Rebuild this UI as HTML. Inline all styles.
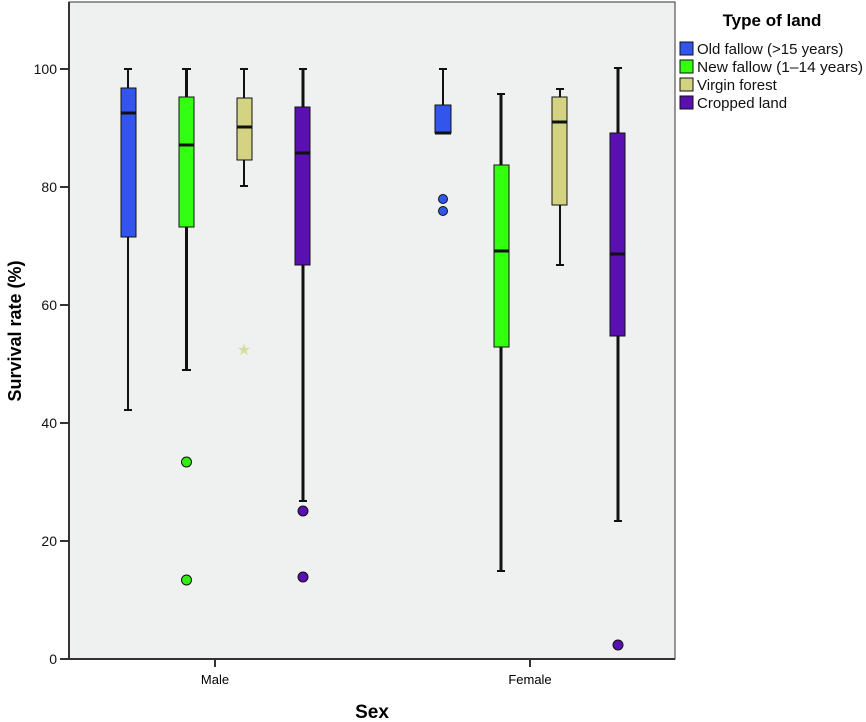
<!DOCTYPE html>
<html><head><meta charset="utf-8"><style>body{margin:0;background:#fff}svg{display:block}text{font-family:"Liberation Sans",sans-serif}</style></head><body>
<svg width="866" height="722" viewBox="0 0 866 722">
<rect x="69" y="2" width="606" height="657" fill="#eff1f1" stroke="#333" stroke-width="1"/>
<line x1="69" y1="2" x2="69" y2="659" stroke="#333" stroke-width="2"/>
<line x1="69" y1="659" x2="675" y2="659" stroke="#333" stroke-width="2"/>
<g font-size="14" fill="#111" text-anchor="end">
<line x1="60" y1="659" x2="69" y2="659" stroke="#333" stroke-width="2"/><text x="57" y="664">0</text>
<line x1="60" y1="541" x2="69" y2="541" stroke="#333" stroke-width="2"/><text x="57" y="546">20</text>
<line x1="60" y1="423" x2="69" y2="423" stroke="#333" stroke-width="2"/><text x="57" y="428">40</text>
<line x1="60" y1="305" x2="69" y2="305" stroke="#333" stroke-width="2"/><text x="57" y="310">60</text>
<line x1="60" y1="187" x2="69" y2="187" stroke="#333" stroke-width="2"/><text x="57" y="192">80</text>
<line x1="60" y1="69" x2="69" y2="69" stroke="#333" stroke-width="2"/><text x="57" y="74">100</text>
</g>
<line x1="215" y1="659" x2="215" y2="667" stroke="#333" stroke-width="2"/>
<line x1="530" y1="659" x2="530" y2="667" stroke="#333" stroke-width="2"/>
<text x="215" y="684" font-size="13" text-anchor="middle">Male</text>
<text x="530" y="684" font-size="13" text-anchor="middle">Female</text>
<text x="372" y="718" font-size="19" font-weight="bold" text-anchor="middle">Sex</text>
<text transform="translate(21,331) rotate(-90)" font-size="18" font-weight="bold" text-anchor="middle">Survival rate (%)</text>
<g stroke="#111">
<line x1="128" y1="69" x2="128" y2="410" stroke-width="2"/><line x1="124" y1="69" x2="132" y2="69" stroke-width="2"/><line x1="124" y1="410" x2="132" y2="410" stroke-width="2"/>
<rect x="121" y="88" width="15" height="149" fill="#3355ee"/><line x1="121" y1="113" x2="136" y2="113" stroke-width="3"/>
<line x1="186.5" y1="69" x2="186.5" y2="370" stroke-width="3"/><line x1="182" y1="69" x2="191" y2="69" stroke-width="2"/><line x1="182" y1="370" x2="191" y2="370" stroke-width="2"/>
<rect x="179" y="97" width="15" height="130" fill="#33ff11"/><line x1="179" y1="145" x2="194" y2="145" stroke-width="3"/>
<circle cx="186.5" cy="462" r="5" fill="#33ee11"/><circle cx="186.5" cy="580" r="5" fill="#33ee11"/>
<line x1="244" y1="69" x2="244" y2="186" stroke-width="2"/><line x1="240" y1="69" x2="248" y2="69" stroke-width="2"/><line x1="240" y1="186" x2="248" y2="186" stroke-width="2"/>
<rect x="237" y="98" width="15" height="62" fill="#d3d382"/><line x1="237" y1="127" x2="252" y2="127" stroke-width="3"/>
<line x1="303" y1="69" x2="303" y2="501" stroke-width="3"/><line x1="299" y1="69" x2="307" y2="69" stroke-width="2"/><line x1="299" y1="501" x2="307" y2="501" stroke-width="2"/>
<rect x="295" y="107" width="15" height="158" fill="#5a0fb0"/><line x1="295" y1="153" x2="310" y2="153" stroke-width="3"/>
<circle cx="303" cy="511" r="5" fill="#5a0fb0"/><circle cx="303" cy="577" r="5" fill="#5a0fb0"/>
<line x1="443" y1="69" x2="443" y2="105" stroke-width="2"/><line x1="439" y1="69" x2="447" y2="69" stroke-width="2"/>
<rect x="435" y="105" width="16" height="28" fill="#3355ee"/><line x1="435" y1="133" x2="451" y2="133" stroke-width="3"/>
<circle cx="443" cy="199" r="4.5" fill="#3355ee"/><circle cx="443" cy="211" r="4.5" fill="#3355ee"/>
<line x1="501" y1="94" x2="501" y2="571" stroke-width="3"/><line x1="497" y1="94" x2="505" y2="94" stroke-width="2"/><line x1="497" y1="571" x2="505" y2="571" stroke-width="2"/>
<rect x="494" y="165" width="15" height="182" fill="#33ff11"/><line x1="494" y1="251" x2="509" y2="251" stroke-width="3"/>
<line x1="560" y1="89" x2="560" y2="265" stroke-width="2"/><line x1="556" y1="89" x2="564" y2="89" stroke-width="2"/><line x1="556" y1="265" x2="564" y2="265" stroke-width="2"/>
<rect x="552" y="97" width="15" height="108" fill="#d3d382"/><line x1="552" y1="122" x2="567" y2="122" stroke-width="3"/>
<line x1="618" y1="68" x2="618" y2="521" stroke-width="3"/><line x1="614" y1="68" x2="622" y2="68" stroke-width="2"/><line x1="614" y1="521" x2="622" y2="521" stroke-width="2"/>
<rect x="610" y="133" width="15" height="203" fill="#5a0fb0"/><line x1="610" y1="254" x2="625" y2="254" stroke-width="3"/>
<circle cx="618" cy="645" r="5" fill="#5a0fb0"/>
</g>
<text x="244" y="355" font-size="16" fill="#d8dca0" text-anchor="middle">★</text>
<text x="772" y="26" font-size="17" font-weight="bold" text-anchor="middle">Type of land</text>
<g font-size="15" fill="#111" stroke-width="1">
<rect x="680" y="42" width="13" height="13" fill="#3355ee" stroke="#111"/><text x="697" y="54">Old fallow (&gt;15 years)</text>
<rect x="680" y="60" width="13" height="13" fill="#33ff11" stroke="#111"/><text x="697" y="72" textLength="166" lengthAdjust="spacingAndGlyphs">New fallow (1–14 years)</text>
<rect x="680" y="78" width="13" height="13" fill="#d3d382" stroke="#111"/><text x="697" y="90">Virgin forest</text>
<rect x="680" y="96" width="13" height="13" fill="#5a0fb0" stroke="#111"/><text x="697" y="108">Cropped land</text>
</g>
</svg>
</body></html>
